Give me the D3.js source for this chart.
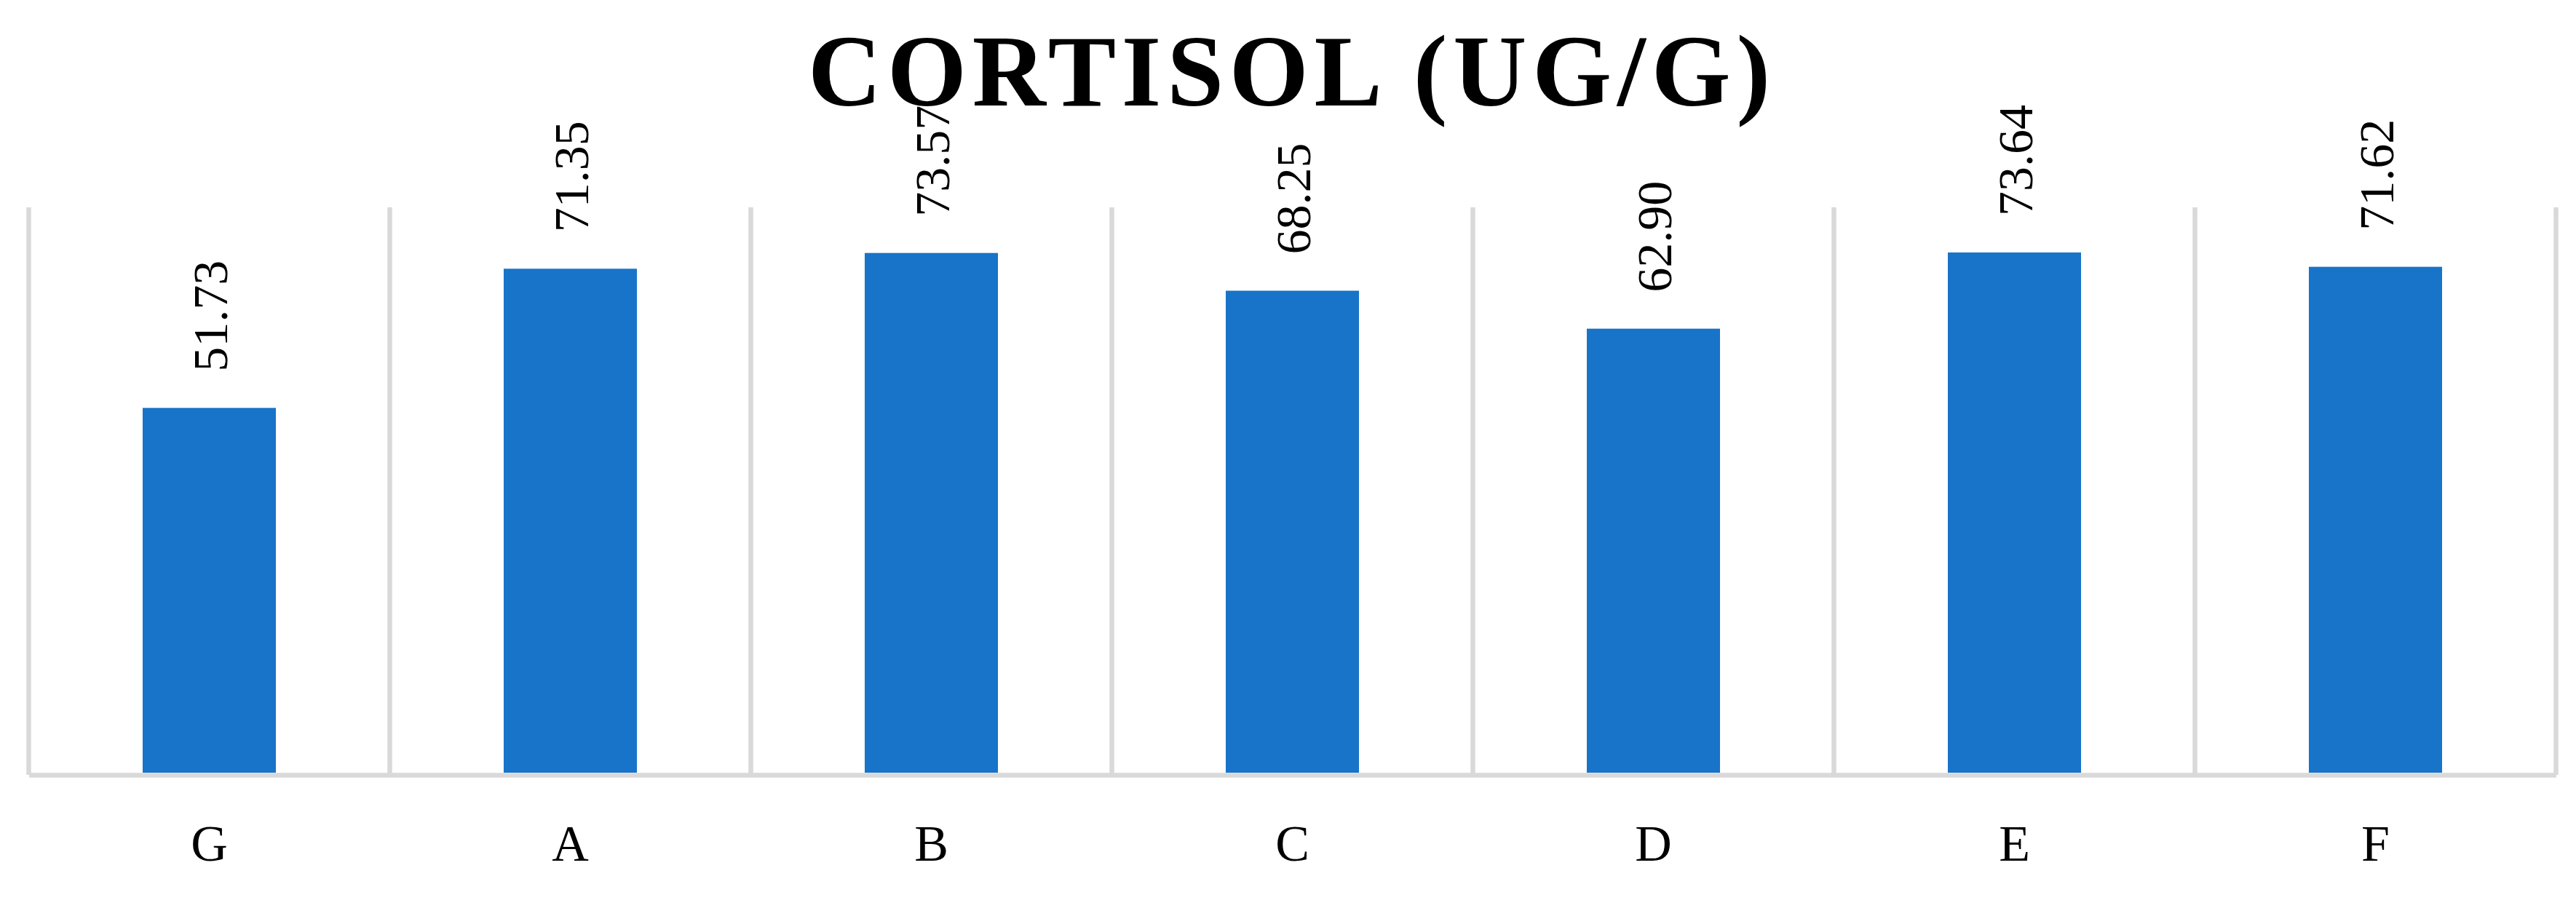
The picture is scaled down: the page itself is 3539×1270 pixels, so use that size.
<!DOCTYPE html>
<html>
<head>
<meta charset="utf-8">
<script src="https://cdn.jsdelivr.net/npm/d3@7"></script>
<style>
  html, body { margin: 0; padding: 0; background: #ffffff; }
  svg { display: block; }
  text { font-family: "Liberation Serif", "Times New Roman", serif; fill: #000; }
</style>
</head>
<body>
<script>
const categories = ["G", "A", "B", "C", "D", "E", "F"];
const values = [51.73, 71.35, 73.57, 68.25, 62.90, 73.64, 71.62];
const yDomain = [0, 80];
const titleText = "CORTISOL (UG/G)";

const W = 3539, H = 1270;
const plot = { left: 39.5, right: 3511.5, top: 285, bottom: 1065 };
const gridColor = "#d9d9d9";
const barColor = "#1874c9";

const svg = d3.select("body").append("svg")
  .attr("width", W).attr("height", H)
  .attr("viewBox", `0 0 ${W} ${H}`);

svg.append("rect").attr("width", W).attr("height", H).attr("fill", "#fff");

const xBand = d3.scaleBand().domain(categories).range([plot.left, plot.right]).padding(0);
const xBar = d3.scaleBand().domain(categories).range([plot.left, plot.right])
  .paddingInner(0.631).paddingOuter(0.3155);
const y = d3.scaleLinear().domain(yDomain).range([plot.bottom, plot.top]);

// vertical category separators (gridlines)
const bounds = categories.map(c => xBand(c)).concat([xBand.range()[1]]);
svg.append("g").selectAll("line").data(bounds).join("line")
  .attr("x1", d => d).attr("x2", d => d)
  .attr("y1", y(yDomain[1])).attr("y2", y(0))
  .attr("stroke", gridColor).attr("stroke-width", 6.5);

// bars
svg.append("g").selectAll("rect").data(values).join("rect")
  .attr("x", (d, i) => xBar(categories[i]))
  .attr("width", xBar.bandwidth())
  .attr("y", d => y(d))
  .attr("height", d => y(0) - y(d) - 3)
  .attr("fill", barColor);

// baseline axis
const xAxis = d3.axisBottom(xBand).tickSize(0).tickPadding(0);
const gx = svg.append("g").attr("transform", `translate(0,${y(0)})`).call(xAxis);
gx.select(".domain").attr("stroke", gridColor).attr("stroke-width", 6.5);
gx.selectAll(".tick text")
  .attr("y", 118)
  .attr("dy", 0)
  .attr("font-size", 70)
  .attr("font-family", "'Liberation Serif', serif")
  .attr("fill", "#000");

// value labels (rotated)
const fmt = d3.format(".2f");
svg.append("g").selectAll("text").data(values).join("text")
  .attr("transform", (d, i) => `translate(${xBand(categories[i]) + xBand.bandwidth() / 2 + 24},${y(d) - 50}) rotate(-90)`)
  .attr("font-size", 68)
  .attr("text-anchor", "start")
  .text(d => fmt(d));

// title
svg.append("text")
  .attr("x", 1771).attr("y", 145)
  .attr("text-anchor", "middle")
  .attr("font-size", 140)
  .attr("font-weight", "bold")
  .attr("textLength", 1322)
  .attr("lengthAdjust", "spacing")
  .text(titleText);
</script>
</body>
</html>
